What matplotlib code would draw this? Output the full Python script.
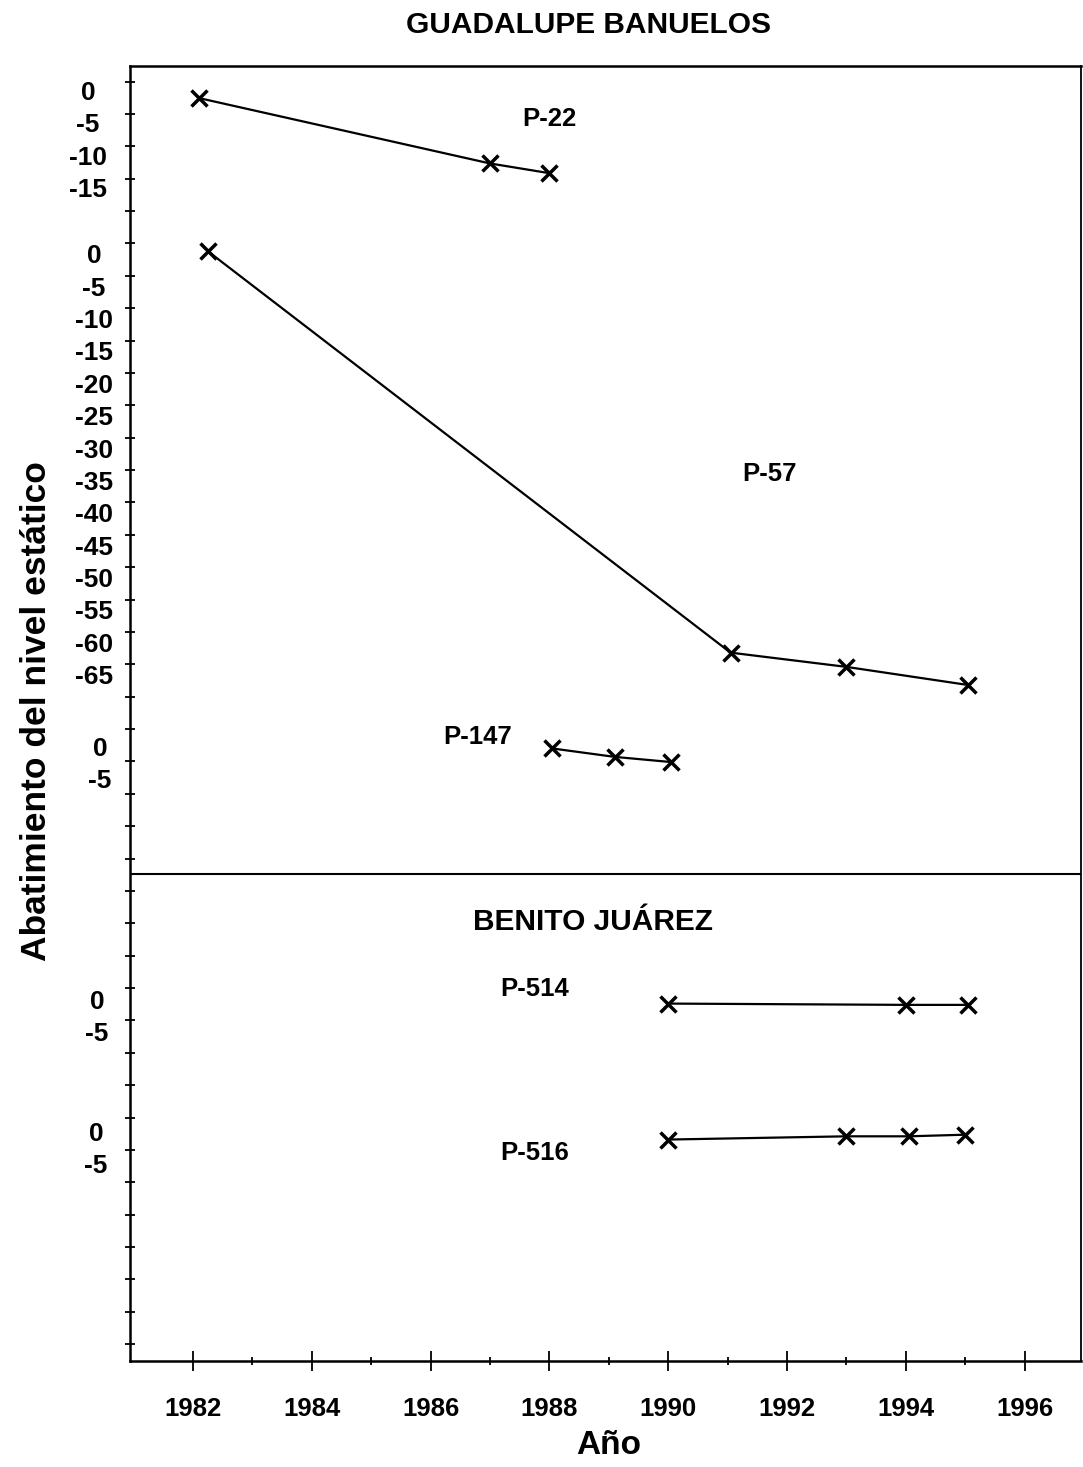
import matplotlib
matplotlib.use("Agg")
import matplotlib.pyplot as plt
import matplotlib.transforms as mtransforms
import numpy as np

plt.rcParams['font.family'] = ['Liberation Sans', 'DejaVu Sans']

# ---------------- data (drawdown in m relative to each well's own zero) -------------
p22_years = [1982.1, 1987.0, 1988.0]
p22_vals = [-0.8, -10.9, -12.4]

p57_years = [1982.25, 1991.05, 1993.0, 1995.05]
p57_vals = [0.8, -61.2, -63.4, -66.2]

p147_years = [1988.05, 1989.1, 1990.05]
p147_vals = [0.1, -1.2, -2.0]

p514_years = [1990.0, 1994.0, 1995.05]
p514_vals = [-0.3, -0.5, -0.5]

p516_years = [1990.0, 1993.0, 1994.05, 1995.0]
p516_vals = [-0.9, -0.4, -0.4, -0.15]

p22_ticklabels = [0, -5, -10, -15]
p57_ticklabels = [0, -5, -10, -15, -20, -25, -30, -35, -40, -45, -50, -55, -60, -65]
p147_ticklabels = [0, -5]
p514_ticklabels = [0, -5]
p516_ticklabels = [0, -5]

year_ticks = [1982, 1984, 1986, 1988, 1990, 1992, 1994, 1996]
well_names = ["P-22", "P-57", "P-147", "P-514", "P-516"]
title_top = "GUADALUPE BANUELOS"
title_bottom = "BENITO JUÁREZ"
xlabel = "Año"
ylabel = "Abatimiento del nivel estático"

# ---------------- layout (vertical stacking offsets on a shared metre scale) ---------
offsets = {"P-22": -1.75, "P-57": -27.0, "P-147": -103.1, "P-514": -142.1, "P-516": -162.5}
label_x_px = {"P-22": 88, "P-57": 94, "P-147": 100, "P-514": 97, "P-516": 96}
name_pos = {"P-22": (1988.0, -5.8), "P-57": (1991.7, -60.6), "P-147": (1986.8, -101.2),
            "P-514": (1987.75, -140.2), "P-516": (1987.75, -165.5)}
divider_y = -122.4
ylim = (-197.6, 2.4)
xlim = (1980.94, 1996.95)

W, H = 1083, 1467
fig = plt.figure(figsize=(W / 100, H / 100), dpi=100)
ax = fig.add_axes([130 / W, 1 - 1361 / H, (1081 - 130) / W, (1361 - 66) / H])
ax.set_xlim(*xlim)
ax.set_ylim(*ylim)

series = [
    ("P-22", p22_years, p22_vals, p22_ticklabels),
    ("P-57", p57_years, p57_vals, p57_ticklabels),
    ("P-147", p147_years, p147_vals, p147_ticklabels),
    ("P-514", p514_years, p514_vals, p514_ticklabels),
    ("P-516", p516_years, p516_vals, p516_ticklabels),
]

ytrans = ax.get_yaxis_transform()
for name, yrs, vals, tl in series:
    off = offsets[name]
    ax.plot(yrs, np.array(vals) + off, color='black', lw=1.6, marker='x',
            markersize=11, markeredgewidth=2.5, clip_on=False)
    xa = (label_x_px[name] - 130) / (1081 - 130)
    for v in tl:
        ax.text(xa, v + off, f"{v}", transform=ytrans, ha='center', va='center',
                fontsize=19, fontweight='bold', clip_on=False)
    nx, ny = name_pos[name]
    ax.text(nx, ny, name, ha='center', va='center', fontsize=18.5, fontweight='bold')

ax.axhline(divider_y, color='black', lw=1.5)
ax.text(1988.73, -129.8, title_bottom, ha='center', va='center', fontsize=21.5, fontweight='bold')

# ticks
ax.set_yticks(np.arange(0, -196, -5))
ax.set_yticklabels([])
ax.tick_params(axis='y', direction='inout', length=7, width=1.3, left=True, right=False)
ax.set_xticks(year_ticks)
ax.set_xticklabels([str(y) for y in year_ticks], fontsize=18.5, fontweight='bold')
shift = mtransforms.ScaledTranslation(5 / 100, 0, fig.dpi_scale_trans)
for lab in ax.get_xticklabels():
    lab.set_transform(lab.get_transform() + shift)
ax.set_xticks(np.arange(1983, 1996, 2), minor=True)
ax.tick_params(axis='x', which='major', direction='inout', length=14, width=1.3, pad=19)
ax.tick_params(axis='x', which='minor', direction='inout', length=6, width=1.3)
ax.tick_params(axis='y', which='minor', left=False)

for s in ['left', 'bottom', 'top']:
    ax.spines[s].set_linewidth(1.8)
ax.spines['right'].set_linewidth(1.3)

fig.text(588 / W, 1 - 25 / H, title_top, ha='center', va='center', fontsize=21.5, fontweight='bold')
fig.text(609 / W, 1 - 1445 / H, xlabel, ha='center', va='center', fontsize=24, fontweight='bold')
fig.text(37 / W, 1 - 711 / H, ylabel, ha='center', va='center', rotation=90, fontsize=25.5,
         fontweight='bold')

fig.savefig("out.png", dpi=100)
